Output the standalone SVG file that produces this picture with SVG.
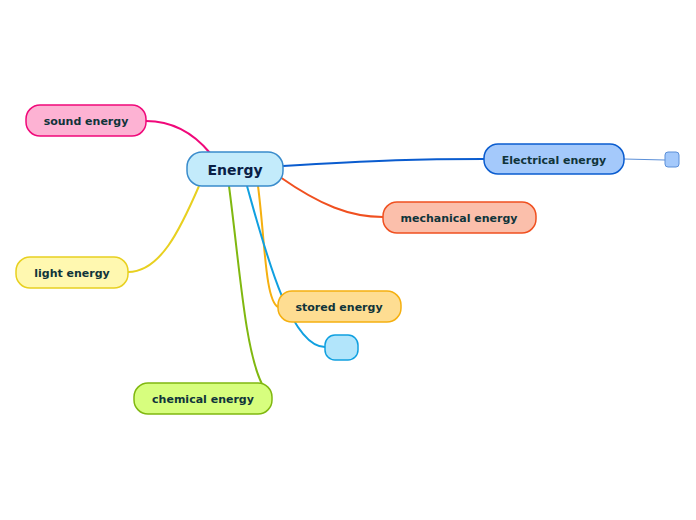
<svg xmlns="http://www.w3.org/2000/svg" width="696" height="520" viewBox="0 0 696 520">
<style>
text{font-family:Verdana,"DejaVu Sans",sans-serif;font-weight:bold;font-size:11px;fill:#10343a;text-anchor:middle}
.c{fill:none;stroke-width:2}
</style>
<rect width="696" height="520" fill="#fff"/>
<g id="connectors">
<path class="c" stroke="#f0087a" d="M210,153 C195,135 175,121 146,121"/>
<path class="c" stroke="#0a5ccf" d="M283,166 C380,160 420,159 484,159"/>
<path class="c" stroke="#f05020" d="M280,177 C320,205 350,217 383,217"/>
<path class="c" stroke="#e8d020" d="M199,186 C180,230 160,272 128,272"/>
<path class="c" stroke="#f5b010" d="M258,186 C265,240 265,300 278,307"/>
<path class="c" stroke="#10a0e0" d="M247,186 C265,250 290,347 325,347"/>
<path class="c" stroke="#80b810" d="M229,186 C240,270 245,350 262,384"/>
<path fill="none" stroke="#5b8fd8" stroke-width="1" d="M624,159 L665,160"/>
</g>
<g id="energy"><rect x="187" y="152" width="96" height="34" rx="15" fill="#c3ebfb" stroke="#3a8ccc" stroke-width="1.5"/><text x="235" y="175" style="font-size:14px;fill:#0a2046">Energy</text></g>
<g id="sound"><rect x="26" y="105" width="120" height="31" rx="14" fill="#fdb2d3" stroke="#f0087a" stroke-width="1.5"/><text x="86" y="125">sound energy</text></g>
<g id="electrical"><rect x="484" y="144" width="140" height="30" rx="14" fill="#a4c9fb" stroke="#0a5ccf" stroke-width="1.5"/><text x="554" y="164">Electrical energy</text></g>
<g id="elchild"><rect x="665" y="152" width="14" height="15" rx="3" fill="#a4c9fb" stroke="#5b8fd8" stroke-width="1"/></g>
<g id="mechanical"><rect x="383" y="202" width="153" height="31" rx="14" fill="#fbbfab" stroke="#f05020" stroke-width="1.5"/><text x="459" y="222">mechanical energy</text></g>
<g id="light"><rect x="16" y="257" width="112" height="31" rx="14" fill="#fff8b0" stroke="#e8d020" stroke-width="1.5"/><text x="72" y="277">light energy</text></g>
<g id="stored"><rect x="278" y="291" width="123" height="31" rx="14" fill="#fedd92" stroke="#f5b010" stroke-width="1.5"/><text x="339" y="311">stored energy</text></g>
<g id="storedchild"><rect x="325" y="335" width="33" height="25" rx="10" fill="#b2e5fb" stroke="#10a0e0" stroke-width="1.5"/></g>
<g id="chemical"><rect x="134" y="383" width="138" height="31" rx="14" fill="#d7fe7e" stroke="#80b810" stroke-width="1.5"/><text x="203" y="403">chemical energy</text></g>
</svg>
